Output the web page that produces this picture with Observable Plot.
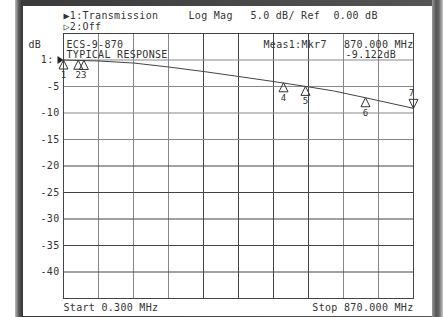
<!DOCTYPE html>
<html>
<head>
<meta charset="utf-8">
<script src="https://cdn.jsdelivr.net/npm/d3@7"></script>
<script src="https://cdn.jsdelivr.net/npm/@observablehq/plot@0.6"></script>
<style>
  html, body { margin: 0; padding: 0; background: #fff; }
  #wrap { position: relative; width: 443px; height: 317px; overflow: hidden; background: #fff; }
  #bezel { position: absolute; left: 15px; top: 0; width: 426px; height: 317px;
           background: linear-gradient(90deg, #bbb 0px, #555 4px, #3a3a3a 7px, #555 100%); }
  #bezelR { position: absolute; left: 432px; top: 0; width: 11px; height: 317px;
           background: linear-gradient(90deg, #999 0px, #555 4px, #666 7px, #ccc 11px); }
  #screen { position: absolute; left: 23px; top: 6px; width: 409px; height: 310px; background: #fff; }
  #chart { position: absolute; left: 0; top: 0; }
</style>
</head>
<body>
<div id="wrap">
  <div id="bezel"></div>
  <div id="bezelR"></div>
  <div id="screen"></div>
  <div id="chart"></div>
</div>
<script>
// ---- data ----
const startMHz = 0.3;
const stopMHz = 870;
const traceFreqMHz = [0.3, 87.3, 174.2, 261.2, 348.2, 435.2, 522.1, 601.6, 671.2, 750.7, 870];
const traceDb      = [0, -0.19, -0.57, -1.32, -2.17, -3.11, -4.06, -4.98, -5.83, -7.12, -9.122];

const markerNum     = [1, 2, 3, 4, 5, 6, 7];
const markerFreqMHz = [0.3, 37, 51, 547, 601.6, 750.7, 870];
const markerDb      = [0, -0.05, -0.08, -4.3, -4.98, -7.12, -9.122];

const yTickValues = [-5, -10, -15, -20, -25, -30, -35, -40];
const yGridValues = [5, 0, -5, -10, -15, -20, -25, -30, -35, -40, -45];

const headerLine1 = ["\u25B61:Transmission", "Log Mag", "5.0 dB/ Ref", "0.00 dB"];
const headerLine2 = "\u25B72:Off";
const titleLines = ["ECS-9-870", "TYPICAL RESPONSE"];
const measLabel = "Meas1:Mkr7";
const measFreq = "870.000 MHz";
const measValue = "-9.122dB";
const startLabel = "Start 0.300 MHz";
const stopLabel = "Stop 870.000 MHz";
const refLabel = "1:";
const unitLabel = "dB";

// ---- build tables ----
const trace = traceFreqMHz.map((f, i) => ({f, db: traceDb[i]}));
const markers = markerNum.map((n, i) => ({n, f: markerFreqMHz[i], db: markerDb[i]}));
const gridX = d3.range(11).map(i => startMHz + i * (stopMHz - startMHz) / 10);

const upTri = { draw(ctx) { ctx.moveTo(0, 0); ctx.lineTo(4.5, 9); ctx.lineTo(-4.5, 9); ctx.closePath(); } };
const downTri = { draw(ctx) { ctx.moveTo(0, 0); ctx.lineTo(4.5, -9); ctx.lineTo(-4.5, -9); ctx.closePath(); } };
const refArrow = { draw(ctx) { ctx.moveTo(0, 0); ctx.lineTo(-6, -4); ctx.lineTo(-6, 4); ctx.closePath(); } };

const ink = "#333";
const darkCols = new Set([4, 5, 6, 7]);

const chart = Plot.plot({
  width: 443,
  height: 317,
  marginLeft: 63,
  marginRight: 30,
  marginTop: 33,
  marginBottom: 19,
  style: {background: "transparent", fontFamily: "'DejaVu Sans Mono', monospace", fontSize: "10px", letterSpacing: "0.3px", color: ink},
  x: {type: "linear", domain: [startMHz, stopMHz], axis: null},
  y: {domain: [-45, 5], axis: null},
  marks: [
    // grid
    Plot.ruleX(gridX.filter((d, i) => !darkCols.has(i)), {stroke: "#888", strokeWidth: 1}),
    Plot.ruleX(gridX.filter((d, i) => darkCols.has(i)), {stroke: "#444", strokeWidth: 1}),
    Plot.ruleY(yGridValues.filter(d => d > -20 && d < 5), {stroke: "#888", strokeWidth: 1}),
    Plot.ruleY(yGridValues.filter(d => d <= -20 || d >= 5), {stroke: "#444", strokeWidth: 1}),
    Plot.frame({stroke: "#444"}),
    // y tick labels
    Plot.axisY({ticks: yTickValues, tickSize: 0, tickPadding: 4, tickFormat: d => String(d), label: null, fill: ink}),
    Plot.text([refLabel], {x: startMHz, y: 0, dx: -10, textAnchor: "end", fill: ink}),
    Plot.dot([0], {x: startMHz, y: 0, symbol: refArrow, fill: "#222", stroke: "none"}),
    // trace
    Plot.line(trace, {x: "f", y: "db", stroke: "#444", strokeWidth: 1, curve: "linear"}),
    // markers
    Plot.dot(markers.filter(d => d.n !== 7), {x: "f", y: "db", symbol: upTri, stroke: "#333", fill: "none", strokeWidth: 1}),
    Plot.dot(markers.filter(d => d.n === 7), {x: "f", y: "db", symbol: downTri, stroke: "#333", fill: "none", strokeWidth: 1}),
    Plot.text(markers.filter(d => d.n !== 7), {x: "f", y: "db", text: d => String(d.n), dy: 15, fill: ink, fontSize: 9}),
    Plot.text(markers.filter(d => d.n === 7), {x: "f", y: "db", text: d => String(d.n), dy: -15, dx: -2, fill: ink, fontSize: 9}),
    // header
    Plot.text([headerLine1[0]], {frameAnchor: "top-left", dx: 0, dy: -18, textAnchor: "start", lineAnchor: "middle", fill: ink}),
    Plot.text([headerLine1[1]], {frameAnchor: "top-left", dx: 125, dy: -18, textAnchor: "start", lineAnchor: "middle", fill: ink}),
    Plot.text([headerLine1[2]], {frameAnchor: "top-left", dx: 187, dy: -18, textAnchor: "start", lineAnchor: "middle", fill: ink}),
    Plot.text([headerLine1[3]], {frameAnchor: "top-left", dx: 270, dy: -18, textAnchor: "start", lineAnchor: "middle", fill: ink}),
    Plot.text([headerLine2], {frameAnchor: "top-left", dx: 0, dy: -7, textAnchor: "start", lineAnchor: "middle", fill: ink}),
    Plot.text([unitLabel], {frameAnchor: "top-left", dx: -35, dy: 11, textAnchor: "start", lineAnchor: "middle", fill: ink}),
    Plot.text([titleLines[0]], {frameAnchor: "top-left", dx: 3, dy: 11, textAnchor: "start", lineAnchor: "middle", fill: ink}),
    Plot.text([titleLines[1]], {frameAnchor: "top-left", dx: 3, dy: 21, textAnchor: "start", lineAnchor: "middle", fill: ink}),
    Plot.text([measLabel], {frameAnchor: "top-left", dx: 200, dy: 11, textAnchor: "start", lineAnchor: "middle", fill: ink}),
    Plot.text([measFreq], {frameAnchor: "top-right", dx: 0, dy: 11, textAnchor: "end", lineAnchor: "middle", fill: ink}),
    Plot.text([measValue], {frameAnchor: "top-left", dx: 282, dy: 21, textAnchor: "start", lineAnchor: "middle", fill: ink}),
    // footer
    Plot.text([startLabel], {frameAnchor: "bottom-left", dx: 0, dy: 9, textAnchor: "start", lineAnchor: "middle", fill: ink}),
    Plot.text([stopLabel], {frameAnchor: "bottom-right", dx: 0, dy: 9, textAnchor: "end", lineAnchor: "middle", fill: ink})
  ]
});
document.getElementById("chart").appendChild(chart);
</script>
</body>
</html>
